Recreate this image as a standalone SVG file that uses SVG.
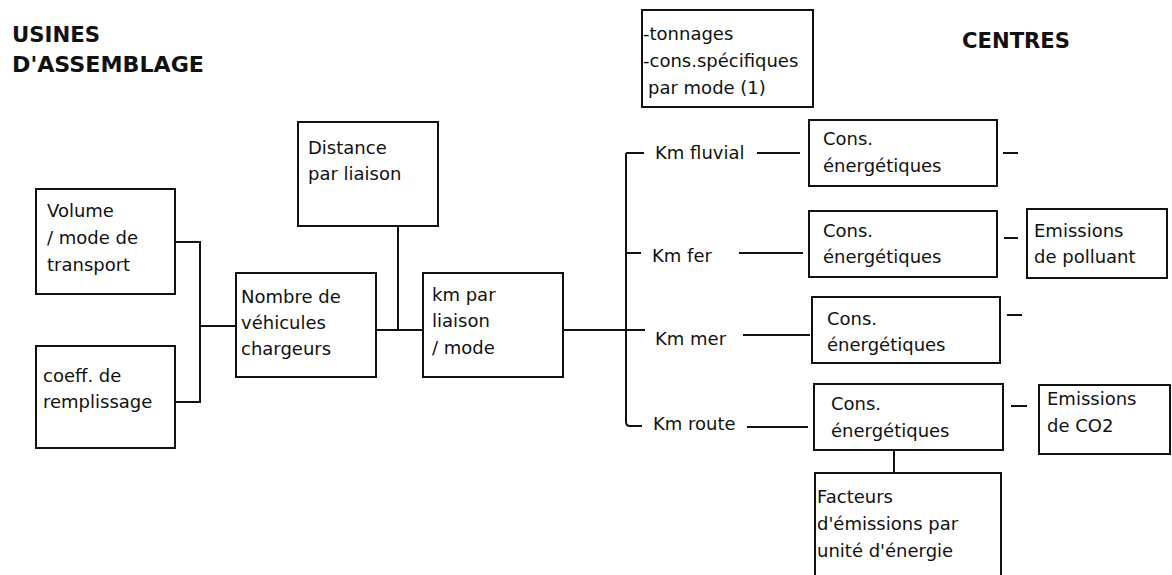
<svg xmlns="http://www.w3.org/2000/svg" width="1172" height="575" viewBox="0 0 1172 575">
<style>
.b{fill:#fff;stroke:#111;stroke-width:2}
.t{font-family:"DejaVu Sans",Verdana,sans-serif;font-size:18px;fill:#111}
.h{font-family:"DejaVu Sans","Liberation Sans",sans-serif;font-size:22px;font-weight:bold;fill:#111}
.c{fill:none;stroke:#111;stroke-width:2}
</style>
<rect width="1172" height="575" fill="#fff"/>
<g id="titles">
<text class="h" x="12" y="42" textLength="88" lengthAdjust="spacingAndGlyphs">USINES</text>
<text class="h" x="12" y="72" textLength="192" lengthAdjust="spacingAndGlyphs">D'ASSEMBLAGE</text>
<text class="h" x="962" y="48" textLength="108" lengthAdjust="spacingAndGlyphs">CENTRES</text>
</g>
<g id="connectors">
<path class="c" d="M175 242H200V402H175M200 326H236"/>
<path class="c" d="M376 330H423M398 226V330"/>
<path class="c" d="M563 330H645M626 153V422Q626 426 630 426H642M626 153H644M626 253H641"/>
<path class="c" d="M757 153H800M739 253H803M743 335H810M747 427H808"/>
<path class="c" d="M1003 153H1018M1004 238H1018M1007 315H1022M1011 406H1027"/>
<path class="c" d="M894 450V473"/>
</g>
<g id="tonnages">
<rect class="b" x="642" y="10" width="171" height="97"/>
<text class="t" x="643" y="40">-tonnages</text>
<text class="t" x="643" y="67">-cons.spécifiques</text>
<text class="t" x="648" y="94">par mode (1)</text>
</g>
<g id="volume">
<rect class="b" x="36" y="189" width="139" height="105"/>
<text class="t" x="47" y="217">Volume</text>
<text class="t" x="47" y="244">/ mode de</text>
<text class="t" x="47" y="271">transport</text>
</g>
<g id="coeff">
<rect class="b" x="36" y="346" width="139" height="102"/>
<text class="t" x="43" y="382">coeff. de</text>
<text class="t" x="43" y="408">remplissage</text>
</g>
<g id="nombre">
<rect class="b" x="236" y="273" width="140" height="104"/>
<text class="t" x="241" y="303">Nombre de</text>
<text class="t" x="241" y="329">véhicules</text>
<text class="t" x="241" y="355">chargeurs</text>
</g>
<g id="distance">
<rect class="b" x="298" y="122" width="140" height="104"/>
<text class="t" x="308" y="154">Distance</text>
<text class="t" x="308" y="180">par liaison</text>
</g>
<g id="km">
<rect class="b" x="423" y="273" width="140" height="104"/>
<text class="t" x="432" y="301">km par</text>
<text class="t" x="432" y="327">liaison</text>
<text class="t" x="432" y="354">/ mode</text>
</g>
<g id="modes">
<text class="t" x="655" y="159">Km fluvial</text>
<text class="t" x="652" y="262">Km fer</text>
<text class="t" x="655" y="345">Km mer</text>
<text class="t" x="653" y="430">Km route</text>
</g>
<g id="cons1">
<rect class="b" x="809" y="120" width="188" height="66"/>
<text class="t" x="823" y="145">Cons.</text>
<text class="t" x="823" y="172">énergétiques</text>
</g>
<g id="cons2">
<rect class="b" x="809" y="211" width="188" height="66"/>
<text class="t" x="823" y="237">Cons.</text>
<text class="t" x="823" y="263">énergétiques</text>
</g>
<g id="polluant">
<rect class="b" x="1027" y="209" width="140" height="69"/>
<text class="t" x="1034" y="237">Emissions</text>
<text class="t" x="1034" y="263">de polluant</text>
</g>
<g id="cons3">
<rect class="b" x="812" y="297" width="188" height="66"/>
<text class="t" x="827" y="325">Cons.</text>
<text class="t" x="827" y="351">énergétiques</text>
</g>
<g id="cons4">
<rect class="b" x="814" y="384" width="189" height="66"/>
<text class="t" x="831" y="410">Cons.</text>
<text class="t" x="831" y="437">énergétiques</text>
</g>
<g id="co2">
<rect class="b" x="1039" y="385" width="131" height="69"/>
<text class="t" x="1047" y="405">Emissions</text>
<text class="t" x="1047" y="432">de CO2</text>
</g>
<g id="facteurs">
<rect class="b" x="815" y="473" width="186" height="120"/>
<text class="t" x="817" y="503">Facteurs</text>
<text class="t" x="817" y="530">d'émissions par</text>
<text class="t" x="817" y="557">unité d'énergie</text>
</g>
</svg>
